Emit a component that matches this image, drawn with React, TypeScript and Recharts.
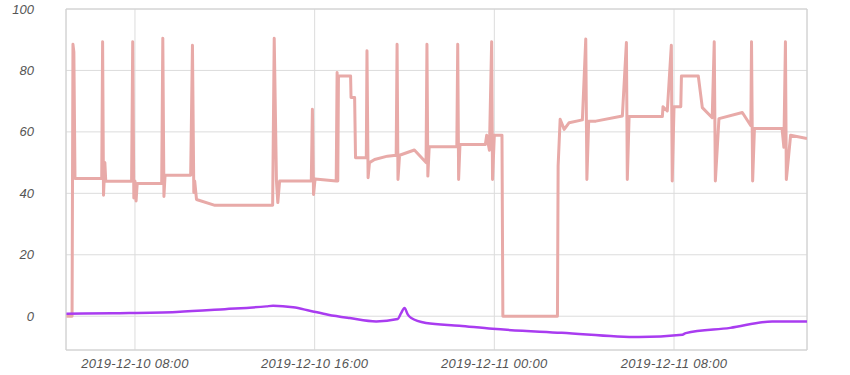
import { CartesianGrid, Line, LineChart, ReferenceArea, XAxis, YAxis } from "recharts";

// hours since 2019-12-10 00:00
const pinkSeries: [number, number][] = [
  [4.95, 0], [5.2, 0], [5.24, 88.5], [5.28, 86], [5.33, 44.8], [6.52, 44.8], [6.56, 89.3], [6.6, 39.4],
  [6.66, 50], [6.7, 43.9], [7.85, 43.9], [7.9, 89.3], [7.95, 38.5], [8.0, 44], [8.05, 37.5], [8.1, 43.2],
  [9.19, 43.2], [9.24, 90.5], [9.29, 39], [9.34, 45.9], [10.48, 45.9], [10.56, 88.2], [10.62, 40.3],
  [10.66, 44], [10.74, 38.0], [11.56, 36.1], [14.13, 36.1], [14.2, 90.5], [14.3, 44], [14.36, 37],
  [14.44, 44], [15.85, 44], [15.9, 67.4], [15.95, 39.6], [16.02, 44.7], [16.96, 44], [17.0, 79.3],
  [17.03, 44], [17.06, 78.2], [17.6, 78.2], [17.62, 71.2], [17.78, 71.2], [17.82, 51.6], [18.3, 51.6],
  [18.33, 86.4], [18.38, 45.1], [18.44, 50], [18.67, 51], [19.24, 52.1], [19.63, 52.4], [19.67, 88.5],
  [19.71, 44.5], [19.78, 52.4], [20.44, 54.1], [20.96, 50], [21.0, 88.5], [21.04, 45.6], [21.1, 55.2],
  [22.33, 55.2], [22.37, 88.5], [22.41, 44.5], [22.47, 55.9], [23.6, 55.9], [23.66, 58.9], [23.78, 54],
  [23.88, 89.3], [23.92, 44.5], [24.0, 58.9], [24.34, 58.9], [24.38, 0], [26.81, 0], [26.84, 48.9],
  [26.93, 64.1], [27.11, 60.8], [27.33, 63], [27.92, 63.9], [28.07, 90.2], [28.12, 44.5], [28.2, 63.5],
  [28.52, 63.5], [29.7, 65.2], [29.88, 89.1], [29.92, 44.5], [30.0, 65], [31.48, 65], [31.51, 68.2],
  [31.7, 66.8], [31.88, 88.2], [31.92, 44], [32.0, 68.2], [32.3, 68.2], [32.33, 78.2], [33.08, 78.2],
  [33.26, 67.9], [33.7, 64.6], [33.79, 89.3], [33.84, 44], [34.0, 64.3], [35.04, 66.3], [35.42, 62],
  [35.45, 89.3], [35.5, 44], [35.58, 61.1], [36.81, 61.1], [36.89, 55], [36.96, 89.3], [37.0, 44.5],
  [37.19, 58.9], [37.92, 57.8],
];

const purpleSeries: [number, number][] = [
  [4.95, 0.8], [7, 1.0], [9.85, 1.4], [12, 2.3], [13.85, 3.2], [14.15, 3.4], [15.04, 2.9], [15.78, 1.8],
  [16.6, 0.5], [17.56, -0.6], [18.74, -1.7], [19.7, -0.9], [19.85, 1], [20.0, 2.7], [20.15, 0.5],
  [20.3, -0.6], [20.96, -2.2], [22.44, -3.1], [23.92, -4.1], [27, -5.4], [30.44, -6.8], [32.37, -6],
  [32.52, -5.5], [34.5, -3.8], [36.37, -1.7], [37.92, -1.7],
];

const xTicks = [8, 16, 24, 32];
const yTicks = [0, 20, 40, 60, 80, 100];
const xDomain: [number, number] = [4.93, 37.92];
const yDomain: [number, number] = [-11, 100];

const pinkData = pinkSeries.map(([t, v]) => ({ t, v }));
const purpleData = purpleSeries.map(([t, v]) => ({ t, v }));

const pad = (n: number) => String(n).padStart(2, "0");
const fmtTime = (h: number) => {
  const day = 10 + Math.floor(h / 24);
  return `2019-12-${day} ${pad(Math.round(h % 24))}:00`;
};

const font = "'Liberation Sans', Arial, sans-serif";
const yTickStyle = { fontSize: 13, fontStyle: "italic", fill: "#555", fontFamily: font };
const xTickStyle = { ...yTickStyle, letterSpacing: 0.3 };

export default function App() {
  return (
    <div style={{ position: "absolute", left: 0, top: 0, width: 850, height: 375, background: "#fff" }}>
      <LineChart width={850} height={375} margin={{ top: 9, right: 43, bottom: 0, left: 0 }}>
        <CartesianGrid stroke="#dcdcdc" />
        <XAxis
          dataKey="t"
          type="number"
          domain={xDomain}
          ticks={xTicks}
          tickFormatter={fmtTime}
          allowDataOverflow
          axisLine={false}
          tickLine={false}
          tickSize={0}
          tickMargin={9}
          height={25}
          tick={xTickStyle}
        />
        <YAxis
          type="number"
          domain={yDomain}
          ticks={yTicks}
          allowDataOverflow
          axisLine={false}
          tickLine={false}
          tickSize={0}
          tickMargin={32}
          width={66}
          tick={yTickStyle}
        />
        <ReferenceArea x1={xDomain[0]} x2={xDomain[1]} y1={yDomain[0]} y2={yDomain[1]} fill="none" stroke="#d0d0d0" ifOverflow="visible" />
        <Line data={pinkData} dataKey="v" type="linear" stroke="#e8aaa8" strokeWidth={3} strokeLinejoin="round" dot={false} isAnimationActive={false} />
        <Line data={purpleData} dataKey="v" type="monotone" stroke="#a93cf0" strokeWidth={2.5} dot={false} isAnimationActive={false} />
      </LineChart>
    </div>
  );
}
